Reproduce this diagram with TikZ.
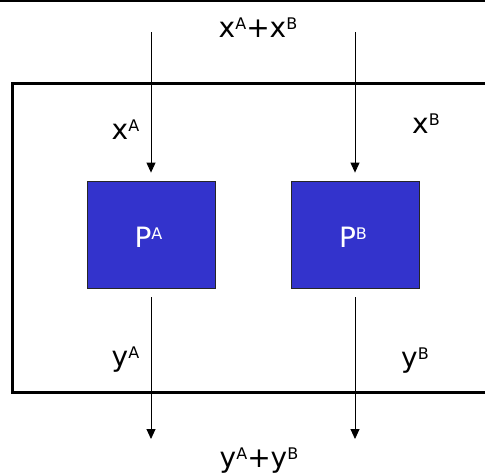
\documentclass[tikz,border=0pt]{standalone}
\usepackage{fontspec}
\setmainfont{DejaVu Sans}
\usetikzlibrary{arrows.meta}
\definecolor{procblue}{HTML}{3333CC}
\newcommand\sups[1]{\raisebox{7.5pt}{\fontsize{16}{17}\selectfont #1}}
\tikzset{
  flow/.style={line width=0.9pt, -{Triangle[width=9pt,length=10pt]}},
  pbox/.style={draw=black!85, line width=0.8pt, fill=procblue, text=white,
    minimum width=128pt, minimum height=107pt, inner sep=0pt,
    font=\fontsize{28}{30}\selectfont},
  lab/.style={anchor=base, inner sep=0pt, font=\fontsize{28}{30}\selectfont},
}
\begin{document}
\begin{tikzpicture}[x=1pt, y=-1pt]
  \useasboundingbox (0,0) rectangle (485,475);
  \clip (0,0) rectangle (485,475);
  % rule along the top edge
  \draw[line width=1.5pt] (0,0.75) -- (485,0.75);
  % enclosing system boundary, open to the right
  \draw[line width=3pt] (490,83) -- (12,83) -- (12,392) -- (490,392);
  % the two processes
  \node[pbox] (PA) at (151,234.5) {};
  \node[pbox] (PB) at (355.5,234.5) {};
  \node[lab, text=white] (tPA) at ([xshift=-2.5pt]PA.center |- 0,247) {P\sups{A}};
  \node[lab, text=white] (tPB) at ([xshift=-2.5pt]PB.center |- 0,247) {P\sups{B}};
  % inputs and outputs
  \coordinate (inA) at (151,32);
  \coordinate (inB) at (355,32);
  \coordinate (outA) at (151,439);
  \coordinate (outB) at (355,439);
  \draw[flow, shorten >=8pt] (inA) -- (inA |- PA.north);
  \draw[flow, shorten >=8pt] (inB) -- (inB |- PB.north);
  \draw[flow, shorten <=9pt] (outA |- PA.south) -- (outA);
  \draw[flow, shorten <=9pt] (outB |- PB.south) -- (outB);
  % labels
  \node[lab] (xsum) at (258,37) {x\sups{A}+x\sups{B}};
  \node[lab] (xa) at (125.5,139) {x\sups{A}};
  \node[lab] (xb) at (426,133) {x\sups{B}};
  \node[lab] (ya) at (125.5,366) {y\sups{A}};
  \node[lab] (yb) at (415,367) {y\sups{B}};
  \node[lab] (ysum) at (259,467) {y\sups{A}+y\sups{B}};
\end{tikzpicture}
\end{document}
